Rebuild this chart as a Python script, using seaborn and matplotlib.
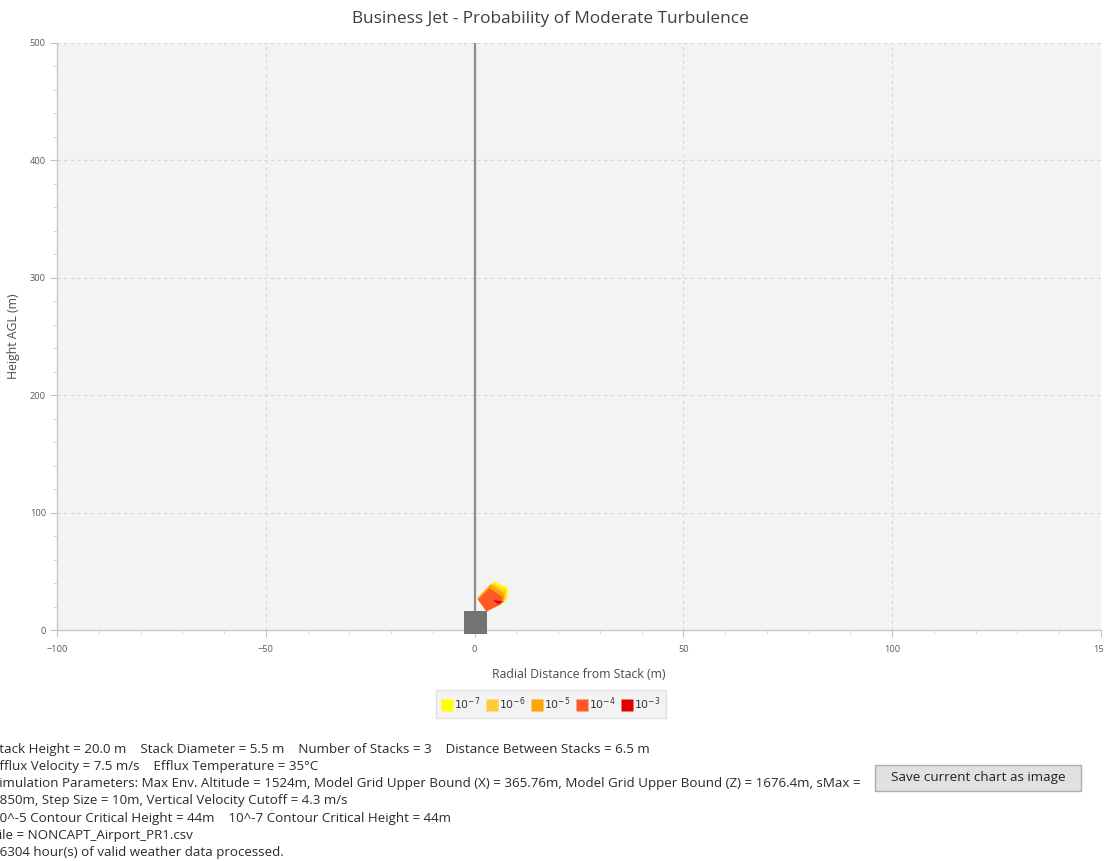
import matplotlib
matplotlib.use("Agg")
import matplotlib.pyplot as plt
from matplotlib.patches import Rectangle
from matplotlib.lines import Line2D
from matplotlib.ticker import MultipleLocator
import seaborn as sns
import pandas as pd

# ---- data ----
TITLE = "Business Jet - Probability of Moderate Turbulence"
X_LABEL = "Radial Distance from Stack (m)"
Y_LABEL = "Height AGL (m)"

x_ticks = [-100, -50, 0, 50, 100, 150]
y_ticks = [0, 100, 200, 300, 400, 500]

# stack centreline and stack body
stack_line_x = [0, 0]
stack_line_y = [0, 500]
stack_x = [0.1]
stack_y = [6.4]

# probability contour outlines (radial distance, height)
levels = ["$10^{-7}$", "$10^{-6}$", "$10^{-5}$", "$10^{-4}$", "$10^{-3}$"]
level_colors = ["#FFFF00", "#FFCC33", "#FFA500", "#FF5A24", "#E00000"]
contour_x = [
    [1.4, 4.6, 8.0, 7.8, 3.2],
    [1.1, 4.3, 7.6, 7.3, 3.0],
    [0.6, 3.8, 7.2, 7.0, 2.8],
    [0.8, 3.6, 6.7, 6.4, 2.9],
    [4.4, 6.8, 5.6],
]
contour_y = [
    [27, 41.5, 36.0, 26.5, 16.5],
    [27, 40.0, 34.0, 25.0, 16.0],
    [27, 39.0, 31.0, 23.5, 15.5],
    [26, 35.5, 28.0, 22.0, 16.0],
    [25.5, 24.5, 22.0],
]

info_lines = [
    "Stack Height = 20.0 m    Stack Diameter = 5.5 m    Number of Stacks = 3    Distance Between Stacks = 6.5 m",
    "Efflux Velocity = 7.5 m/s    Efflux Temperature = 35\u00b0C",
    "Simulation Parameters: Max Env. Altitude = 1524m, Model Grid Upper Bound (X) = 365.76m, Model Grid Upper Bound (Z) = 1676.4m, sMax =",
    "1850m, Step Size = 10m, Vertical Velocity Cutoff = 4.3 m/s",
    "10^-5 Contour Critical Height = 44m    10^-7 Contour Critical Height = 44m",
    "File = NONCAPT_Airport_PR1.csv",
    "26304 hour(s) of valid weather data processed.",
]
BUTTON_TEXT = "Save current chart as image"

# ---- figure ----
sns.set_theme(style="whitegrid")
plt.rcParams["font.family"] = ["Open Sans", "DejaVu Sans"]

W, H = 1104, 861
fig = plt.figure(figsize=(W / 100, H / 100), dpi=100, facecolor="white")
ax = fig.add_axes([57 / W, (H - 630) / H, (1101 - 57) / W, (630 - 43) / H])
ax.set_facecolor("#F3F3F3")

# contour regions, widest first
for cx, cy, col in zip(contour_x, contour_y, level_colors):
    ax.fill(cx, cy, color=col, lw=0, zorder=3)

# stack centreline
line_df = pd.DataFrame({"x": stack_line_x, "y": stack_line_y})
sns.lineplot(data=line_df, x="x", y="y", ax=ax, color="#8C8C8C", lw=1.6,
             sort=False, estimator=None, zorder=2)

# stack body
stack_df = pd.DataFrame({"x": stack_x, "y": stack_y})
sns.scatterplot(data=stack_df, x="x", y="y", ax=ax, marker="s", s=275,
                color="#737373", edgecolor="none", zorder=4, clip_on=False)

ax.set_xlim(x_ticks[0], x_ticks[-1])
ax.set_ylim(y_ticks[0], y_ticks[-1])
ax.set_xticks(x_ticks)
ax.set_yticks(y_ticks)
ax.xaxis.set_minor_locator(MultipleLocator(10))
ax.yaxis.set_minor_locator(MultipleLocator(20))
ax.grid(True, which="major", color="#D6D6D6", lw=0.8, ls=(0, (3, 3)))
ax.grid(False, which="minor")
ax.tick_params(axis="both", which="major", labelsize=6.7, labelcolor="#5A5A5A",
               length=5, width=0.8, color="#C4C4C4")
ax.tick_params(axis="x", which="major", pad=6)
ax.tick_params(axis="y", which="major", pad=3)
ax.tick_params(axis="both", which="minor", length=3, width=0.6, color="#CFCFCF")
ax.tick_params(bottom=True, left=True, which="both")
for side in ["top", "right"]:
    ax.spines[side].set_visible(False)
for side in ["left", "bottom"]:
    ax.spines[side].set_color("#C8C8C8")
    ax.spines[side].set_linewidth(1.0)

ax.set_xlabel(X_LABEL, fontsize=8.8, color="#4A4A4A", labelpad=10)
ax.set_ylabel(Y_LABEL, fontsize=8.8, color="#4A4A4A", labelpad=7)
fig.text(550 / W, 1 - 19 / H, TITLE, ha="center", va="center",
         fontsize=12.4, color="#3F3F3F")

# legend
handles = [Line2D([], [], marker="s", ls="none", markersize=8,
                  markerfacecolor=c, markeredgecolor="none") for c in level_colors]
leg = fig.legend(handles, levels, loc="center", ncol=5,
                 bbox_to_anchor=(551 / W, 1 - 704 / H), frameon=True,
                 fontsize=7.8, handletextpad=0.1, columnspacing=0.6,
                 borderpad=0.5, handlelength=1.0)
leg.get_frame().set_facecolor("#F0F0F0")
leg.get_frame().set_edgecolor("#DADADA")
leg.get_frame().set_boxstyle("square", pad=0)
for t in leg.get_texts():
    t.set_color("#333333")

# run information
line_y0 = 749
for i, txt in enumerate(info_lines):
    fig.text(-8 / W, 1 - (line_y0 + i * 17.3) / H, txt, ha="left", va="center",
             fontsize=9.6, color="#2A2A2A")

# save button
bx0, by0, bw, bh = 875, 765, 206, 26
fig.patches.append(Rectangle((bx0 / W, 1 - (by0 + bh) / H), bw / W, bh / H,
                             transform=fig.transFigure, facecolor="#E1E1E1",
                             edgecolor="#ADADAD", lw=1.0))
fig.text((bx0 + bw / 2) / W, 1 - (by0 + bh / 2) / H, BUTTON_TEXT,
         ha="center", va="center", fontsize=9.7, color="#222222")

fig.savefig("out.png", dpi=100, facecolor="white")
